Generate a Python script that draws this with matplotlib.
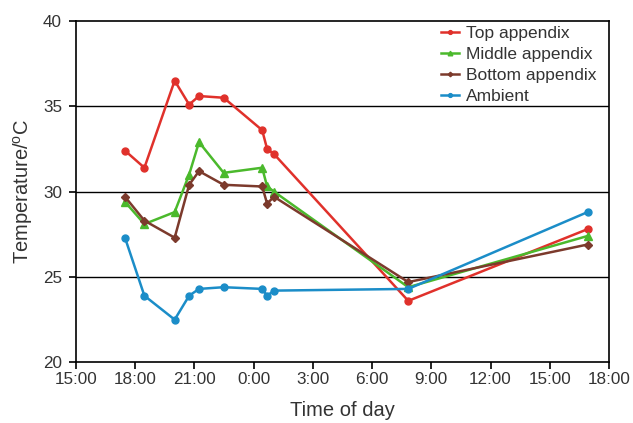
import pandas as pd
import matplotlib
matplotlib.use("Agg")
import matplotlib.pyplot as plt
import matplotlib.dates as mdates

# sampling times (day 1 evening -> day 2 afternoon)
times = ["2000-01-01 17:29", "2000-01-01 18:28", "2000-01-01 20:00",
         "2000-01-01 20:44", "2000-01-01 21:14", "2000-01-01 22:29",
         "2000-01-02 00:26", "2000-01-02 00:41", "2000-01-02 01:02",
         "2000-01-02 07:50", "2000-01-02 16:55"]

top = [32.4, 31.4, 36.5, 35.1, 35.6, 35.5, 33.6, 32.5, 32.2, 23.6, 27.8]
middle = [29.4, 28.1, 28.8, 31.0, 32.9, 31.1, 31.4, 30.3, 30.0, 24.4, 27.4]
bottom = [29.7, 28.3, 27.3, 30.4, 31.2, 30.4, 30.3, 29.3, 29.7, 24.7, 26.9]
ambient = [27.3, 23.9, 22.5, 23.9, 24.3, 24.4, 24.3, 23.9, 24.2, 24.3, 28.8]

t = pd.to_datetime(times)

plt.rcParams['font.family'] = ['Liberation Sans', 'DejaVu Sans']
txt = '#333333'

fig = plt.figure(figsize=(6.33, 4.23), dpi=100)
ax = fig.add_axes([0.12, 0.1435, 0.842, 0.807])

ax.plot(t, top, color='#e0312b', marker='o', ms=5, lw=1.8, label='Top appendix')
ax.plot(t, middle, color='#4bb92c', marker='^', ms=6, lw=1.8, label='Middle appendix')
ax.plot(t, bottom, color='#7c3a2c', marker='D', ms=4.2, lw=1.8, label='Bottom appendix')
ax.plot(t, ambient, color='#1b8dc8', marker='o', ms=5, lw=1.8, label='Ambient')

ax.set_xlim(pd.Timestamp("2000-01-01 15:00"), pd.Timestamp("2000-01-02 18:00"))
ax.set_ylim(20, 40)
ax.set_yticks([20, 25, 30, 35, 40])
ax.xaxis.set_major_locator(mdates.HourLocator(byhour=range(0, 24, 3)))
ax.xaxis.set_major_formatter(plt.FuncFormatter(
    lambda v, pos: "%d:%02d" % (mdates.num2date(v).hour, mdates.num2date(v).minute)))

for y in (25, 30, 35):
    ax.axhline(y, color='black', lw=1.0, zorder=0)

for s in ax.spines.values():
    s.set_linewidth(1.2)
ax.tick_params(direction='out', length=5, width=1.2, labelsize=12.3, labelcolor=txt)
ax.tick_params(axis='y', pad=5)
ax.tick_params(axis='x', pad=2)

ax.set_xlabel('Time of day', fontsize=14.5, color=txt, labelpad=10)
ax.set_ylabel('Temperature/$\\mathregular{^o}$C', fontsize=14.5, color=txt, labelpad=6)

leg = ax.legend(loc='upper left', bbox_to_anchor=(0.685, 0.985), frameon=False,
                fontsize=12.5, handlelength=1.05, handletextpad=0.4, labelspacing=0.33,
                borderpad=0, borderaxespad=0, markerscale=0.55)
for tx in leg.get_texts():
    tx.set_color(txt)

fig.savefig('out.png', dpi=100)
